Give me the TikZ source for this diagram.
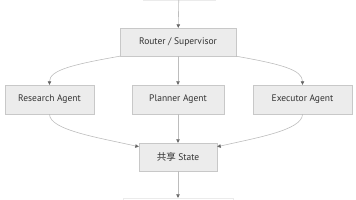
\documentclass[tikz,border=0pt]{standalone}
\usepackage{fontspec}
\setmainfont{PT Sans}
\newfontfamily\cjk{Noto Sans CJK SC}
\usepackage{tikz}
\usepackage{xcolor}
\usetikzlibrary{arrows.meta, positioning, calc}
\definecolor{boxfill}{HTML}{ECECEC}
\definecolor{boxline}{HTML}{C8C8C8}
\definecolor{edgeline}{HTML}{BDBDBD}
\definecolor{tipcol}{HTML}{666666}
\definecolor{txt}{HTML}{333333}

\begin{document}
\begin{tikzpicture}[x=1pt, y=-1pt,
    box/.style={rectangle, draw=boxline, fill=boxfill, minimum height=28pt, inner xsep=0pt, font=\fontsize{9.5}{11}\selectfont, text=txt, align=center},
    edge/.style={draw=edgeline, line width=0.6pt, -{Triangle[length=3.5pt, width=3.5pt, color=tipcol, fill=tipcol]}}]
    \useasboundingbox (0,0) rectangle (356,200);
    \clip (0,0) rectangle (356,200);
    \node[rectangle, draw=black!8, minimum width=72pt, minimum height=28pt] (start) at (179,-14) {};
    \node[box, minimum width=116pt] (router) at (178,42) {Router / Supervisor};
    \node[box, minimum width=89pt, minimum height=29pt] (research) at (49.5,99.5) {Research Agent};
    \node[box, minimum width=92pt, minimum height=29pt] (planner) at (178,99.5) {Planner Agent};
    \node[box, minimum width=99pt, minimum height=29pt] (executor) at (302.5,99.5) {Executor Agent};
    \node[box, minimum width=78pt] (state) at (178,157) {{\cjk 共享} State};
    \node[rectangle, draw=black!8, minimum width=110pt, minimum height=28pt] (end) at (178,212) {};
    \draw[edge] (start) -- (router);
    \draw[edge] (router.south west) .. controls +(-45,8) and +(0,-15) .. (research.north);
    \draw[edge] (router) -- (planner);
    \draw[edge] (router.south east) .. controls +(45,8) and +(0,-15) .. (executor.north);
    \draw[edge] (research.south) .. controls +(0,16) and +(-39,-9) .. ($(state.north west)!0.14!(state.south west)$);
    \draw[edge] (planner) -- (state);
    \draw[edge] (executor.south) .. controls +(0,16) and +(39,-9) .. ($(state.north east)!0.14!(state.south east)$);
    \draw[edge] (state) -- (end);
\end{tikzpicture}
\end{document}
